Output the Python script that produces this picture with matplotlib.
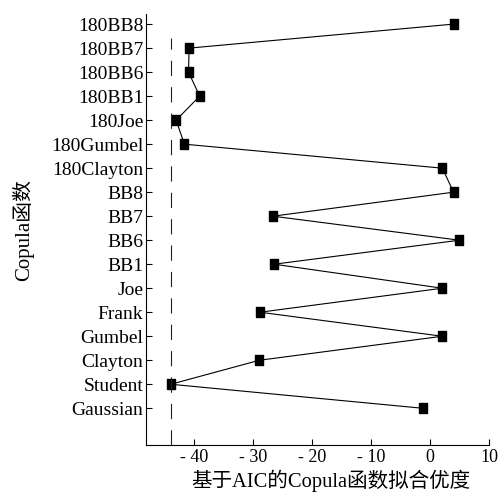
import numpy as np
import matplotlib.pyplot as plt

plt.rcParams['font.family'] = ['Liberation Serif', 'Noto Sans CJK SC']
plt.rcParams['lines.scale_dashes'] = False

# copula names, bottom to top
copulas = ["Gaussian", "Student", "Clayton", "Gumbel", "Frank", "Joe",
           "BB1", "BB6", "BB7", "BB8", "180Clayton", "180Gumbel",
           "180Joe", "180BB1", "180BB6", "180BB7", "180BB8"]
aic = [-1.2, -43.9, -28.9, 2.1, -28.8, 2.1,
       -26.4, 5.0, -26.6, 4.0, 2.1, -41.6,
       -43.0, -39.0, -40.9, -40.8, 4.0]
best_aic = -43.9
xticks = [-40, -30, -20, -10, 0, 10]

ypos = np.arange(1, len(copulas) + 1)

fig = plt.figure(figsize=(5.0, 4.92), dpi=100)
ax = fig.add_axes([0.292, 0.0955, 0.686, 0.876])

# slightly tall rectangle marker
rect = [(-0.4, -0.5), (0.4, -0.5), (0.4, 0.5), (-0.4, 0.5), (-0.4, -0.5)]
ax.plot(aic, ypos, color='black', lw=0.8, marker=rect, markersize=7.5,
        markerfacecolor='black', markeredgecolor='black')

ylo, yhi = -0.53, 17.42
ax.vlines(best_aic, ylo, 16.44, colors='#222222', linestyles=(0, (11, 8)), lw=0.8)

ax.set_xlim(-48.1, 10)
ax.set_ylim(ylo, yhi)
ax.set_xticks(xticks)
ax.set_xticklabels([('- %d' % -v) if v < 0 else str(v) for v in xticks], fontsize=13)
ax.set_yticks(ypos)
ax.set_yticklabels(copulas, fontsize=14)

ax.spines['top'].set_visible(False)
ax.spines['right'].set_visible(False)
ax.tick_params(direction='in', length=4, width=0.8)
ax.tick_params(axis='y', pad=2)
ax.tick_params(axis='x', pad=3)

ax.set_xlabel('基于AIC的Copula函数拟合优度', fontsize=14.8)
ax.xaxis.set_label_coords(0.539, -0.058)
ax.set_ylabel('Copula函数', fontsize=15)
ax.yaxis.set_label_coords(-0.325, 0.499)

fig.savefig('out.png', dpi=100)
